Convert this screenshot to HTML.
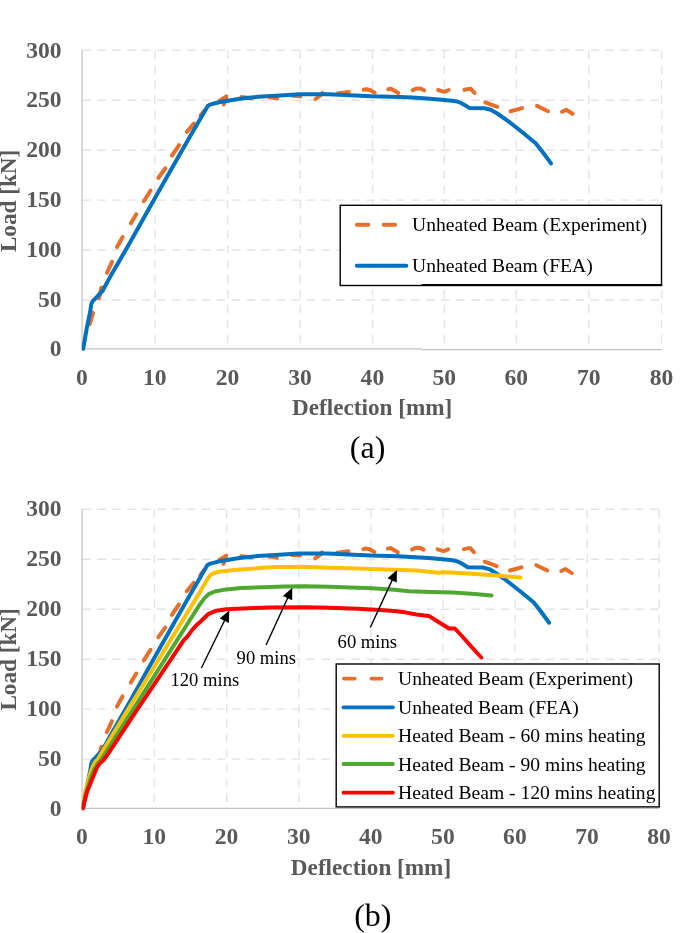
<!DOCTYPE html>
<html><head><meta charset="utf-8"><title>Load-deflection curves</title>
<style>html,body{margin:0;padding:0;background:#fff;}body{width:685px;height:933px;overflow:hidden;}svg{display:block;will-change:transform;}text{font-family:"Liberation Serif", serif;}.tk{font-weight:bold;font-size:23.6px;fill:#595959;}.tt{font-size:23.2px;}.lg{font-size:19.6px;fill:#000;}.an{font-size:18.6px;fill:#000;}.cap{font-size:32px;fill:#000;}</style></head><body>
<svg width="685" height="933" viewBox="0 0 685 933">
<rect width="685" height="933" fill="#fff"/>
<defs><clipPath id="cp"><rect x="81.7" y="0" width="603.3" height="933"/></clipPath></defs>
<g stroke="#e4e4e4" stroke-width="1.4" stroke-dasharray="8.5 6.45" fill="none"><line x1="82.3" y1="50.30" x2="661.6" y2="50.30"/><line x1="82.3" y1="100.24" x2="661.6" y2="100.24"/><line x1="82.3" y1="150.18" x2="661.6" y2="150.18"/><line x1="82.3" y1="200.12" x2="661.6" y2="200.12"/><line x1="82.3" y1="250.06" x2="661.6" y2="250.06"/><line x1="82.3" y1="300.00" x2="661.6" y2="300.00"/><line x1="154.9" y1="50.60" x2="154.9" y2="348.80"/><line x1="227.7" y1="50.60" x2="227.7" y2="348.80"/><line x1="300.2" y1="50.60" x2="300.2" y2="348.80"/><line x1="372.5" y1="50.60" x2="372.5" y2="348.80"/><line x1="444.3" y1="50.60" x2="444.3" y2="348.80"/><line x1="516.3" y1="50.60" x2="516.3" y2="348.80"/><line x1="588.8" y1="50.60" x2="588.8" y2="348.80"/><line x1="661.6" y1="50.60" x2="661.6" y2="348.80"/></g>
<g stroke="#c2c2c2" stroke-width="1.2"><line x1="82.1" y1="49.70" x2="82.1" y2="349.40"/><line x1="81.5" y1="348.80" x2="421.7" y2="348.80"/><line x1="421.7" y1="349.70" x2="661.6" y2="349.70"/></g>
<g class="tk"><text x="61.6" y="57.5" text-anchor="end">300</text><text x="61.6" y="107.4" text-anchor="end">250</text><text x="61.6" y="157.4" text-anchor="end">200</text><text x="61.6" y="207.3" text-anchor="end">150</text><text x="61.6" y="257.3" text-anchor="end">100</text><text x="61.6" y="307.2" text-anchor="end">50</text><text x="61.6" y="356.4" text-anchor="end">0</text><text x="82.0" y="384.7" text-anchor="middle">0</text><text x="154.8" y="384.7" text-anchor="middle">10</text><text x="227.6" y="384.7" text-anchor="middle">20</text><text x="300.1" y="384.7" text-anchor="middle">30</text><text x="372.4" y="384.7" text-anchor="middle">40</text><text x="444.2" y="384.7" text-anchor="middle">50</text><text x="516.2" y="384.7" text-anchor="middle">60</text><text x="588.7" y="384.7" text-anchor="middle">70</text><text x="661.5" y="384.7" text-anchor="middle">80</text><text x="372.2" y="414.9" text-anchor="middle" class="tt">Deflection [mm]</text><text transform="translate(15.8,200.9) rotate(-90)" text-anchor="middle" class="tt">Load [kN]</text></g>
<g clip-path="url(#cp)">
<g transform="translate(0.000,0) scale(1.00000,1)" fill="none" stroke="#E66F2C" stroke-width="4.0" stroke-linecap="round" stroke-linejoin="round">
<polyline points="89.7,324.2 93.1,312.9"/>
<polyline points="99.0,298.4 101.4,287.5"/>
<polyline points="106.9,272.8 112.0,261.9"/>
<polyline points="117.0,247.1 122.6,237.1"/>
<polyline points="130.9,223.3 136.3,214.2"/>
<polyline points="143.8,201.2 150.6,190.5"/>
<polyline points="158.4,177.8 165.4,168.3"/>
<polyline points="172.0,155.5 179.1,145.2"/>
<polyline points="186.9,131.9 193.9,123.6"/>
<polyline points="200.5,115.8 204.3,110.7"/>
<polyline points="219.8,100.4 226.4,96.4 223.7,104.5"/>
<polyline points="241.3,96.9 251.7,98.2"/>
<polyline points="268.9,97.0 277.1,98.5"/>
<polyline points="292.3,95.7 300.4,96.3"/>
<polyline points="315.5,99.0 321.0,95.0 322.4,93.0"/>
<polyline points="337.5,93.4 348.7,91.9"/>
<polyline points="363.8,89.8 366.4,89.2 370.0,90.0 374.7,92.7"/>
<polyline points="388.3,89.3 391.0,88.8 398.3,93.0"/>
<polyline points="412.6,90.2 415.0,89.0 418.0,88.4 421.0,88.8 424.1,90.3"/>
<polyline points="438.1,90.0 444.2,91.8 448.7,90.0"/>
<polyline points="464.4,89.8 470.6,88.6 474.5,92.9"/>
<polyline points="485.3,102.4 497.3,106.8"/>
<polyline points="510.6,111.2 522.1,108.1"/>
<polyline points="537.0,105.9 548.0,111.2"/>
<polyline points="562.0,111.7 566.2,109.8 572.6,113.8"/>
</g>
<polyline transform="translate(0.000,0) scale(1.00000,1)" points="83.2,348.8 86.8,327.9 90.3,311.2 91.2,304.6 92.2,301.9 93.5,300.2 95.5,298.4 99.0,294.5 102.5,291.0 110.3,276.6 130.0,242.5 148.2,210.0 165.6,179.3 190.0,136.5 207.8,106.0 210.0,104.6 215.0,103.3 220.0,102.0 227.7,100.7 240.0,98.7 258.4,96.8 280.0,95.4 299.3,94.2 328.5,94.2 350.0,95.2 372.3,96.3 400.0,96.9 412.1,97.6 430.0,98.8 444.2,99.9 452.0,100.8 457.1,101.5 461.0,103.0 464.1,104.7 469.3,107.9 484.5,108.2 490.8,109.8 498.0,114.0 508.5,121.4 522.0,132.0 535.7,143.2 543.0,152.5 551.0,163.4" fill="none" stroke="#0070C0" stroke-width="4.0" stroke-linecap="round" stroke-linejoin="round"/>
</g>
<rect x="340.2" y="205.3" width="321.3" height="80.2" fill="#fff" stroke="#000" stroke-width="1.4"/>
<line x1="421.7" y1="285.0" x2="662.2" y2="285.0" stroke="#000" stroke-width="2"/>
<g stroke="#E66F2C" stroke-width="4.0" stroke-linecap="round"><line x1="356.9" y1="224.8" x2="368.3" y2="224.8"/><line x1="383.7" y1="224.8" x2="395.1" y2="224.8"/></g>
<line x1="356.9" y1="265.8" x2="406.3" y2="265.8" stroke="#0070C0" stroke-width="4.0" stroke-linecap="round"/>
<g class="lg"><text x="412.1" y="231.3">Unheated Beam (Experiment)</text><text x="412.1" y="272.3">Unheated Beam (FEA)</text></g>
<text class="cap" x="367.6" y="457.6" text-anchor="middle">(a)</text>
<g stroke="#e4e4e4" stroke-width="1.4" stroke-dasharray="8.5 6.45" fill="none"><line x1="82.3" y1="509.25" x2="659.2" y2="509.25"/><line x1="82.3" y1="559.23" x2="659.2" y2="559.23"/><line x1="82.3" y1="609.21" x2="659.2" y2="609.21"/><line x1="82.3" y1="659.19" x2="659.2" y2="659.19"/><line x1="82.3" y1="709.17" x2="659.2" y2="709.17"/><line x1="82.3" y1="759.15" x2="659.2" y2="759.15"/><line x1="154.4" y1="509.55" x2="154.4" y2="808.36"/><line x1="226.7" y1="509.55" x2="226.7" y2="808.36"/><line x1="298.8" y1="509.55" x2="298.8" y2="808.36"/><line x1="370.9" y1="509.55" x2="370.9" y2="808.36"/><line x1="443.0" y1="509.55" x2="443.0" y2="808.36"/><line x1="515.0" y1="509.55" x2="515.0" y2="808.36"/><line x1="587.2" y1="509.55" x2="587.2" y2="808.36"/><line x1="659.2" y1="509.55" x2="659.2" y2="808.36"/></g>
<g stroke="#c2c2c2" stroke-width="1.2"><line x1="82.1" y1="508.65" x2="82.1" y2="808.96"/><line x1="81.5" y1="808.36" x2="659.2" y2="808.36"/></g>
<g class="tk"><text x="61.6" y="516.0" text-anchor="end">300</text><text x="61.6" y="565.9" text-anchor="end">250</text><text x="61.6" y="615.9" text-anchor="end">200</text><text x="61.6" y="665.9" text-anchor="end">150</text><text x="61.6" y="715.9" text-anchor="end">100</text><text x="61.6" y="765.9" text-anchor="end">50</text><text x="61.6" y="815.5" text-anchor="end">0</text><text x="82.0" y="844.3" text-anchor="middle">0</text><text x="154.3" y="844.3" text-anchor="middle">10</text><text x="226.6" y="844.3" text-anchor="middle">20</text><text x="298.7" y="844.3" text-anchor="middle">30</text><text x="370.8" y="844.3" text-anchor="middle">40</text><text x="442.9" y="844.3" text-anchor="middle">50</text><text x="514.9" y="844.3" text-anchor="middle">60</text><text x="587.1" y="844.3" text-anchor="middle">70</text><text x="659.1" y="844.3" text-anchor="middle">80</text><text x="371.0" y="874.5" text-anchor="middle" class="tt">Deflection [mm]</text><text transform="translate(15.8,659.4) rotate(-90)" text-anchor="middle" class="tt">Load [kN]</text></g>
<g clip-path="url(#cp)">
<g transform="translate(0.123,459.3) scale(0.99850,1)" fill="none" stroke="#E66F2C" stroke-width="4.0" stroke-linecap="round" stroke-linejoin="round">
<polyline points="89.7,324.2 93.1,312.9"/>
<polyline points="99.0,298.4 101.4,287.5"/>
<polyline points="106.9,272.8 112.0,261.9"/>
<polyline points="117.0,247.1 122.6,237.1"/>
<polyline points="130.9,223.3 136.3,214.2"/>
<polyline points="143.8,201.2 150.6,190.5"/>
<polyline points="158.4,177.8 165.4,168.3"/>
<polyline points="172.0,155.5 179.1,145.2"/>
<polyline points="186.9,131.9 193.9,123.6"/>
<polyline points="200.5,115.8 204.3,110.7"/>
<polyline points="219.8,100.4 226.4,96.4 223.7,104.5"/>
<polyline points="241.3,96.9 251.7,98.2"/>
<polyline points="268.9,97.0 277.1,98.5"/>
<polyline points="292.3,95.7 300.4,96.3"/>
<polyline points="315.5,99.0 321.0,95.0 322.4,93.0"/>
<polyline points="337.5,93.4 348.7,91.9"/>
<polyline points="363.8,89.8 366.4,89.2 370.0,90.0 374.7,92.7"/>
<polyline points="388.3,89.3 391.0,88.8 398.3,93.0"/>
<polyline points="412.6,90.2 415.0,89.0 418.0,88.4 421.0,88.8 424.1,90.3"/>
<polyline points="438.1,90.0 444.2,91.8 448.7,90.0"/>
<polyline points="464.4,89.8 470.6,88.6 474.5,92.9"/>
<polyline points="485.3,102.4 497.3,106.8"/>
<polyline points="510.6,111.2 522.1,108.1"/>
<polyline points="537.0,105.9 548.0,111.2"/>
<polyline points="562.0,111.7 566.2,109.8 572.6,113.8"/>
</g>
<polyline transform="translate(0.340,459.3) scale(0.99586,1)" points="83.2,348.8 86.8,327.9 90.3,311.2 91.2,304.6 92.2,301.9 93.5,300.2 95.5,298.4 99.0,294.5 102.5,291.0 110.3,276.6 130.0,242.5 148.2,210.0 165.6,179.3 190.0,136.5 207.8,106.0 210.0,104.6 215.0,103.3 220.0,102.0 227.7,100.7 240.0,98.7 258.4,96.8 280.0,95.4 299.3,94.2 328.5,94.2 350.0,95.2 372.3,96.3 400.0,96.9 412.1,97.6 430.0,98.8 444.2,99.9 452.0,100.8 457.1,101.5 461.0,103.0 464.1,104.7 469.3,107.9 484.5,108.2 490.8,109.8 498.0,114.0 508.5,121.4 522.0,132.0 535.7,143.2 543.0,152.5 551.0,163.4" fill="none" stroke="#0070C0" stroke-width="4.0" stroke-linecap="round" stroke-linejoin="round"/>
<polyline points="82.7,807.9 85.5,790.4 88.5,779.4 90.9,771.4 93.1,765.6 95.1,762.0 98.1,758.8 127.8,709.8 170.0,641.0 194.5,601.0 206.7,580.4 208.3,577.7 210.8,574.7 214.0,573.0 219.1,571.7 233.7,570.1 248.3,569.1 262.9,567.8 277.5,567.1 304.5,566.8 328.7,567.8 357.9,568.5 379.8,569.3 394.5,569.8 416.4,570.5 438.3,572.8 442.7,572.2 460.2,573.1 482.1,574.4 494.5,575.3 520.7,577.6" fill="none" stroke="#FFC000" stroke-width="4.0" stroke-linecap="round" stroke-linejoin="round"/>
<polyline points="82.8,808.0 85.5,795.4 88.5,785.4 91.1,776.7 94.5,768.9 97.9,763.5 101.5,759.2 132.6,710.1 165.8,658.0 194.5,612.8 200.7,603.2 205.0,597.6 209.1,593.8 214.7,591.5 226.4,589.4 241.0,587.9 262.9,587.2 284.8,586.4 304.5,586.2 328.7,586.8 350.6,587.5 372.5,588.2 394.5,589.8 409.1,591.2 431.0,591.9 452.9,592.6 474.8,594.1 491.5,595.6" fill="none" stroke="#4EA72E" stroke-width="4.0" stroke-linecap="round" stroke-linejoin="round"/>
<polyline points="82.9,808.4 83.9,803.9 87.0,791.7 92.0,779.4 96.7,768.0 100.1,763.0 103.6,760.1 108.7,752.8 135.8,711.7 150.3,690.1 172.4,657.2 183.6,640.4 187.5,636.4 191.9,630.3 196.3,625.3 200.7,621.4 204.2,618.0 208.7,613.8 216.2,610.7 226.4,609.2 248.3,608.3 270.2,607.5 304.5,607.2 328.7,607.7 357.9,608.7 379.8,610.1 394.5,611.0 406.2,612.6 416.4,614.5 424.5,615.6 429.2,616.1 438.5,622.0 449.0,628.5 454.9,628.5 461.9,636.0 471.2,646.5 481.3,657.5" fill="none" stroke="#FF0000" stroke-width="4.0" stroke-linecap="round" stroke-linejoin="round"/>
</g>
<line x1="201.4" y1="668.0" x2="224.8" y2="620.0" stroke="#000" stroke-width="1.4"/>
<path d="M229.3,610.6 L228.9,623.1 L219.7,618.6 Z" fill="#000"/>
<line x1="266.1" y1="645.0" x2="288.0" y2="597.2" stroke="#000" stroke-width="1.4"/>
<path d="M292.3,587.7 L292.2,600.2 L282.9,595.9 Z" fill="#000"/>
<line x1="370.3" y1="627.5" x2="392.5" y2="579.4" stroke="#000" stroke-width="1.4"/>
<path d="M396.9,570.0 L396.7,582.5 L387.5,578.2 Z" fill="#000"/>
<g class="an"><text x="170.5" y="685.6">120 mins</text><text x="236.6" y="664.4">90 mins</text><text x="337.6" y="647.9">60 mins</text></g>
<rect x="336.2" y="664" width="323" height="142.9" fill="#fff" stroke="#000" stroke-width="1.4"/>
<g stroke="#E66F2C" stroke-width="3.8" stroke-linecap="round"><line x1="343.9" y1="678.6" x2="354.7" y2="678.6"/><line x1="371.5" y1="678.6" x2="381.5" y2="678.6"/></g>
<line x1="343.5" y1="707.3" x2="392.9" y2="707.3" stroke="#0070C0" stroke-width="3.8" stroke-linecap="round"/>
<line x1="343.5" y1="735.8" x2="392.9" y2="735.8" stroke="#FFC000" stroke-width="3.8" stroke-linecap="round"/>
<line x1="343.5" y1="764.0" x2="392.9" y2="764.0" stroke="#4EA72E" stroke-width="3.8" stroke-linecap="round"/>
<line x1="343.5" y1="792.7" x2="392.9" y2="792.7" stroke="#FF0000" stroke-width="3.8" stroke-linecap="round"/>
<g class="lg"><text x="398.1" y="684.9">Unheated Beam (Experiment)</text><text x="398.1" y="713.6">Unheated Beam (FEA)</text><text x="398.1" y="742.2">Heated Beam - 60 mins heating</text><text x="398.1" y="770.7">Heated Beam - 90 mins heating</text><text x="398.1" y="798.7">Heated Beam - 120 mins heating</text></g>
<text class="cap" x="372.8" y="925.5" text-anchor="middle">(b)</text>
</svg></body></html>
